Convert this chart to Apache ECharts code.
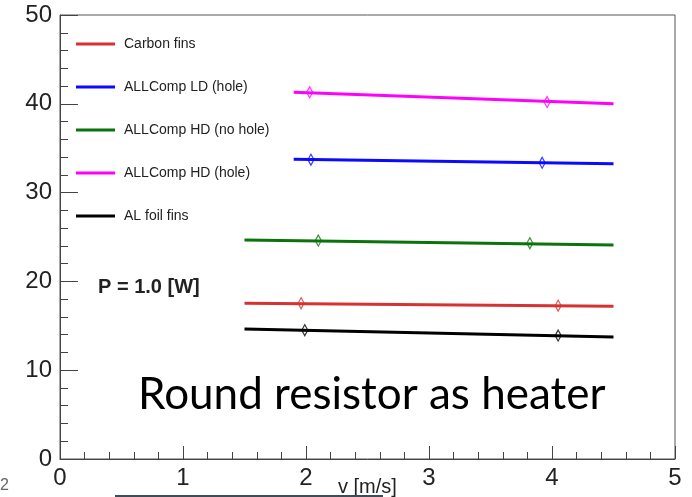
<!DOCTYPE html>
<html>
<head>
<meta charset="utf-8">
<script src="https://cdn.jsdelivr.net/npm/echarts@6/dist/echarts.min.js"></script>
<style>
    html, body { margin: 0; padding: 0; background: #fff; }
    #chart { width: 692px; height: 497px; }
</style>
</head>
<body>
<div id="chart"></div>
<script>
// legend names, in legend order
const seriesNames = ['Carbon fins', 'ALLComp LD (hole)', 'ALLComp HD (no hole)', 'ALLComp HD (hole)', 'AL foil fins']
const seriesColors = ['#d63232', '#0a0aff', '#0b730b', '#ff00ff', '#000000']

// fit lines: start / end velocity [m/s] and temperature
const fitStartV = [1.5, 1.9, 1.5, 1.9, 1.5]
const fitEndV = [4.5, 4.5, 4.5, 4.5, 4.5]
const fitStartT = [17.55, 33.75, 24.65, 41.3, 14.65]
const fitEndT = [17.2, 33.25, 24.1, 40.0, 13.75]

// measured points (diamonds)
const pointV = [[1.96, 4.05], [2.04, 3.92], [2.1, 3.82], [2.03, 3.96], [1.99, 4.05]]
const pointT = [[17.55, 17.26], [33.7, 33.35], [24.6, 24.3], [41.3, 40.2], [14.5, 13.9]]

const xTicks = [0, 1, 2, 3, 4, 5]
const yTicks = [0, 10, 20, 30, 40, 50]

const font = 'Liberation Sans'

const series = []
seriesNames.forEach((name, i) => {
    series.push({
        name: name,
        type: 'line',
        symbol: 'none',
        silent: true,
        lineStyle: { color: seriesColors[i], width: 3 },
        itemStyle: { color: seriesColors[i] },
        data: [[fitStartV[i], fitStartT[i]], [fitEndV[i], fitEndT[i]]],
        z: 2,
    })
    series.push({
        name: name + ' pts',
        type: 'scatter',
        symbol: 'diamond',
        symbolSize: [6, 11],
        silent: true,
        itemStyle: { color: 'rgba(255,255,255,0)', borderColor: seriesColors[i], borderWidth: 1.3 },
        data: pointV[i].map((v, j) => [v, pointT[i][j]]),
        z: 3,
    })
})

const chart = echarts.init(document.getElementById('chart'))
chart.setOption({
    animation: false,
    backgroundColor: '#fff',
    grid: {
        left: 60,
        right: 17,
        top: 15,
        bottom: 38,
        show: true,
        borderColor: '#555',
        borderWidth: 1,
    },
    legend: {
        data: seriesNames.map((n, i) => ({ name: n, itemStyle: { color: seriesColors[i] } })),
        orient: 'vertical',
        left: 71,
        top: 32,
        icon: 'rect',
        itemWidth: 39,
        itemHeight: 3,
        itemGap: 29,
        selectedMode: false,
        textStyle: { fontFamily: font, fontSize: 14, color: '#222', padding: [0, 0, 0, 4] },
    },
    xAxis: {
        type: 'value',
        min: xTicks[0],
        max: xTicks[xTicks.length - 1],
        interval: 1,
        axisLine: { lineStyle: { color: '#444', width: 1 } },
        axisTick: { inside: true, length: 13, lineStyle: { color: '#444' } },
        minorTick: { show: true, splitNumber: 5, length: 7, lineStyle: { color: '#444' } },
        splitLine: { show: false },
        axisLabel: { fontFamily: font, fontSize: 24, color: '#222', margin: 7 },
    },
    yAxis: {
        type: 'value',
        min: yTicks[0],
        max: yTicks[yTicks.length - 1],
        interval: 10,
        axisLine: { show: true, lineStyle: { color: '#444', width: 1 } },
        axisTick: { show: true, inside: true, length: 18, lineStyle: { color: '#444' } },
        minorTick: { show: true, splitNumber: 5, length: 8, lineStyle: { color: '#444' } },
        splitLine: { show: false },
        axisLabel: { fontFamily: font, fontSize: 24, color: '#222', margin: 8 },
    },
    graphic: [
        {
            type: 'text', x: 98, y: 287,
            style: { text: 'P = 1.0 [W]', font: 'bold 20px "Liberation Sans"', fill: '#222', verticalAlign: 'middle' },
        },
        {
            type: 'text', x: 138, y: 395,
            style: { text: 'Round resistor as heater', font: '44px Lato', fill: '#000', verticalAlign: 'middle' },
        },
        {
            type: 'text', x: 338, y: 487,
            style: { text: 'v [m/s]', font: '20px "Liberation Sans"', fill: '#222', verticalAlign: 'middle' },
        },
        {
            type: 'text', x: 0, y: 486,
            style: { text: '2', font: '16px "Liberation Sans"', fill: '#666', verticalAlign: 'middle' },
        },
        {
            type: 'line', shape: { x1: 115, y1: 496, x2: 383, y2: 496 },
            style: { stroke: '#3e4c5a', lineWidth: 2 },
        },
    ],
    series: series,
})
</script>
</body>
</html>
